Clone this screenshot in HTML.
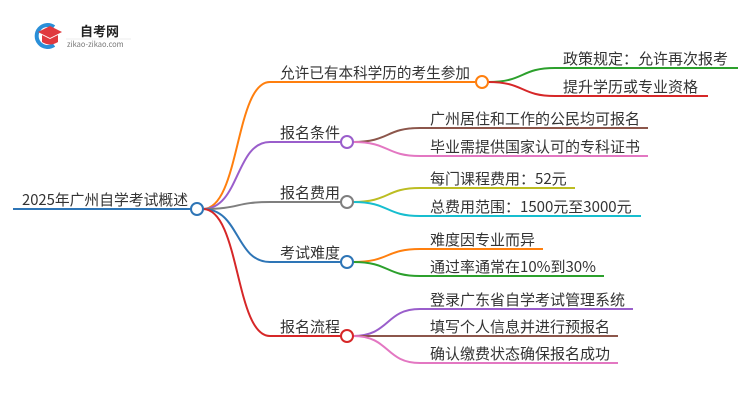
<!DOCTYPE html>
<html><head><meta charset="utf-8"><style>
html,body{margin:0;padding:0;background:#fff;}
svg text{font-family:"Noto Sans CJK SC","Liberation Sans",sans-serif;fill:#333;}
</style></head><body>
<svg width="750" height="410" viewBox="0 0 750 410" xmlns="http://www.w3.org/2000/svg">
<!-- logo -->
<path d="M54,27 A11,11 0 1 0 54,45" fill="none" stroke="#2a8fd8" stroke-width="4"/>
<path d="M38,32 L50,26 L62,32 L50,38 Z" fill="#e0393e"/>
<path d="M42,35 L42,42 Q50,47 58,42 L58,35 L50,39 Z" fill="#e0393e"/>
<text x="80" y="36" font-size="13" font-weight="bold" style="fill:#222">自考网</text>
<line x1="66" y1="39" x2="131" y2="39" stroke="#ddd" stroke-width="0.6"/>
<text x="67" y="47" font-size="7.5" style="fill:#777">zikao-zikao.com</text>

<g fill="none" stroke-width="2">
<line x1="13" y1="209" x2="191" y2="209" stroke="#2e75b6"/>
<path d="M203,209 C240,209 235,82 270,82 L475,82" stroke="#ff7f0e"/>
<path d="M203,209 C240,209 235,142 270,142 L341,142" stroke="#9a5ecb"/>
<path d="M203,209 C240,209 235,202 270,202 L341,202" stroke="#7f7f7f"/>
<path d="M203,209 C240,209 235,262 270,262 L341,262" stroke="#2e75b6"/>
<path d="M203,209 C240,209 235,336 270,336 L341,336" stroke="#d62728"/>
<path d="M488,82 C525,82 520,68 555,68 L738,68" stroke="#2ca02c"/>
<path d="M488,82 C525,82 520,96 555,96 L708,96" stroke="#d62728"/>
<path d="M353,142 C390,142 385,128 420,128 L648,128" stroke="#8c564b"/>
<path d="M353,142 C390,142 385,156 420,156 L648,156" stroke="#e377c2"/>
<path d="M353,202 C390,202 385,188 420,188 L575,188" stroke="#bcbd22"/>
<path d="M353,202 C390,202 385,216 420,216 L641,216" stroke="#17becf"/>
<path d="M353,262 C390,262 385,249 420,249 L543,249" stroke="#ff7f0e"/>
<path d="M353,262 C390,262 385,276 420,276 L604,276" stroke="#2ca02c"/>
<path d="M353,336 C390,336 385,309 420,309 L633,309" stroke="#9a5ecb"/>
<path d="M353,336 L618,336" stroke="#8c564b"/>
<path d="M353,336 C390,336 385,363 420,363 L618,363" stroke="#e377c2"/>
</g>
<g fill="#fff" stroke-width="2">
<circle cx="197" cy="209" r="6" stroke="#2e75b6"/>
<circle cx="482" cy="82" r="6" stroke="#ff7f0e"/>
<circle cx="347" cy="142" r="6" stroke="#9a5ecb"/>
<circle cx="347" cy="202" r="6" stroke="#7f7f7f"/>
<circle cx="347" cy="262" r="6" stroke="#2e75b6"/>
<circle cx="347" cy="336" r="6" stroke="#d62728"/>
</g>
<g font-size="15">
<text x="22" y="205" textLength="166" lengthAdjust="spacingAndGlyphs">2025年广州自学考试概述</text>
<text x="280" y="78" textLength="190" lengthAdjust="spacingAndGlyphs">允许已有本科学历的考生参加</text>
<text x="280" y="138">报名条件</text>
<text x="280" y="198">报名费用</text>
<text x="280" y="258">考试难度</text>
<text x="280" y="332">报名流程</text>
<text x="563" y="64">政策规定：允许再次报考</text>
<text x="563" y="92">提升学历或专业资格</text>
<text x="430" y="124">广州居住和工作的公民均可报名</text>
<text x="430" y="152">毕业需提供国家认可的专科证书</text>
<text x="430" y="184">每门课程费用：52元</text>
<text x="430" y="212">总费用范围：1500元至3000元</text>
<text x="430" y="245">难度因专业而异</text>
<text x="430" y="272">通过率通常在10%到30%</text>
<text x="430" y="305">登录广东省自学考试管理系统</text>
<text x="430" y="332">填写个人信息并进行预报名</text>
<text x="430" y="359">确认缴费状态确保报名成功</text>
</g>
</svg>
</body></html>
